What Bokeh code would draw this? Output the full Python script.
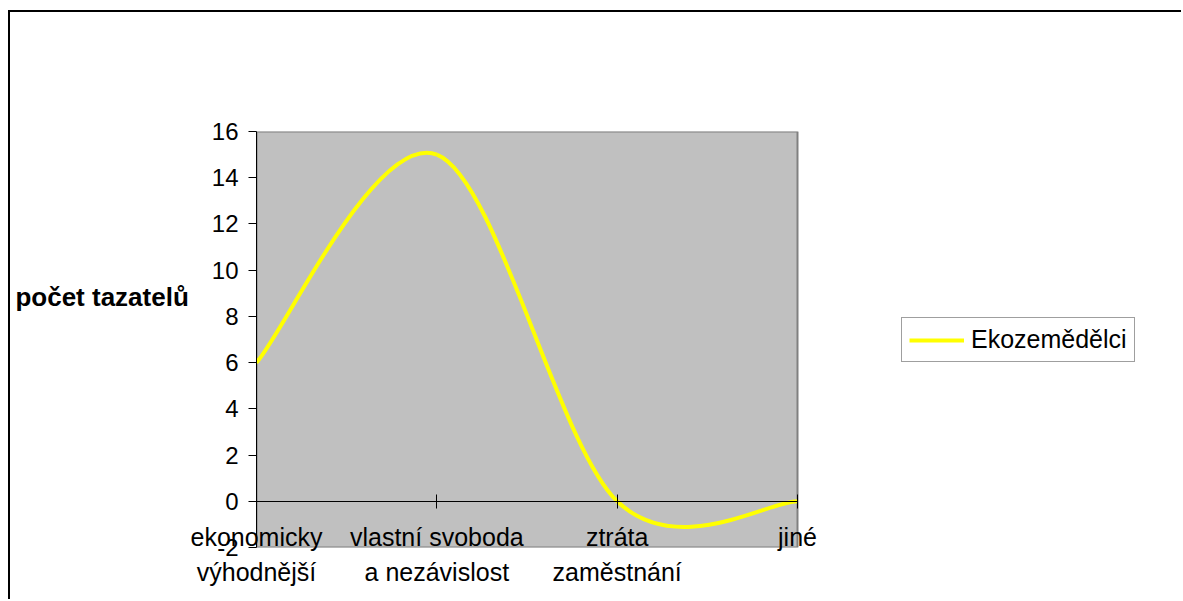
from bokeh.plotting import figure
from bokeh.models import (Legend, LegendItem, FixedTicker, LinearAxis, BoxAnnotation)
from bokeh.embed import file_html
from bokeh.resources import INLINE

# ---- data ----
categories = ["ekonomicky\nvýhodnější", "vlastní svoboda\na nezávislost",
              "ztráta\nzaměstnání", "jiné"]
values = [6, 15, 0, 0]
series_name = "Ekozemědělci"
y_label = "počet tazatelů"
y_ticks = [-2, 0, 2, 4, 6, 8, 10, 12, 14, 16]
y_min, y_max = -2, 16

FONT = "Liberation Sans"
FS = "24px"
FS2 = "25px"

xs = list(range(len(categories)))
x_max = len(categories) - 1

# smoothed line (Excel-like) as cubic bezier segments through the data points
n = len(values)
x0, y0, x1, y1, cx0, cy0, cx1, cy1 = [], [], [], [], [], [], [], []
for i in range(n - 1):
    pi = (xs[i], values[i])
    pn = (xs[i + 1], values[i + 1])
    pp = (xs[i - 1], values[i - 1]) if i > 0 else pi
    pnn = (xs[i + 2], values[i + 2]) if i + 2 < n else pn
    x0.append(pi[0]); y0.append(pi[1])
    x1.append(pn[0]); y1.append(pn[1])
    cx0.append(pi[0] + (pn[0] - pp[0]) / 6.0)
    cy0.append(pi[1] + (pn[1] - pp[1]) / 6.0)
    cx1.append(pn[0] - (pnn[0] - pi[0]) / 6.0)
    cy1.append(pn[1] - (pnn[1] - pi[1]) / 6.0)

OX, OY = 10, 12            # canvas origin on the page (margin + border)
W, H = 1183 - OX, 601 - OY
FL, FR, FT, FB = 256 - OX, 797 - OX, 131 - OY, 547 - OY
# frame spans to the right edge; plot area (gray) covers data x 0..x_max
x_end = x_max * (W - FL) / (FR - FL)

p = figure(width=W, height=H, output_backend="svg", toolbar_location=None,
           x_range=(0, x_end), y_range=(y_min, y_max),
           min_border_left=FL, min_border_right=0,
           min_border_top=FT, min_border_bottom=H - FB,
           background_fill_color="white", border_fill_color="white",
           margin=(10, 0, 0, 8),
           styles={"border-left": "2px solid black",
                   "border-top": "2px solid black"})
p.grid.visible = False
p.outline_line_color = None

# gray plot area
p.add_layout(BoxAnnotation(left=0, right=x_max, bottom=y_min, top=y_max,
                           fill_color="#C0C0C0", fill_alpha=1,
                           line_color="#808080", line_width=2, line_alpha=1,
                           level="underlay"))

# y axis
ya = p.yaxis[0]
ya.ticker = FixedTicker(ticks=y_ticks)
ya.major_label_overrides = {t: str(t) for t in y_ticks}
ya.axis_line_color = "black"
ya.major_tick_line_color = "black"
ya.major_tick_in = 0
ya.major_tick_out = 8
ya.minor_tick_line_color = None
ya.major_label_text_font = FONT
ya.major_label_text_font_size = FS
ya.major_label_text_color = "black"
ya.major_label_standoff = 10
ya.axis_label = y_label + "\n \n \n "
ya.axis_label_orientation = "horizontal"
ya.axis_label_text_font = FONT
ya.axis_label_text_font_size = "26px"
ya.axis_label_text_font_style = "bold"
ya.axis_label_text_color = "black"
ya.axis_label_text_line_height = 0.95
ya.axis_label_standoff = 20

# category labels on the bottom axis
xa = p.xaxis[0]
xa.ticker = FixedTicker(ticks=xs)
xa.major_label_overrides = {i: c for i, c in zip(xs, categories)}
xa.axis_line_color = None
xa.major_tick_line_color = None
xa.minor_tick_line_color = None
xa.major_tick_in = 0
xa.major_tick_out = 0
xa.major_label_standoff = -25
xa.major_label_text_font = FONT
xa.major_label_text_font_size = FS2
xa.major_label_text_color = "black"
xa.major_label_text_line_height = 1.25

# category axis line crossing at y = 0
za = LinearAxis(fixed_location=0, ticker=FixedTicker(ticks=xs), bounds=(0, x_max),
                major_label_overrides={i: "" for i in xs},
                axis_line_color="black", major_tick_line_color="black",
                major_tick_in=7, major_tick_out=7, minor_tick_line_color=None)
p.add_layout(za, "above")

# curve
p.bezier(x0=x0, y0=y0, x1=x1, y1=y1, cx0=cx0, cy0=cy0, cx1=cx1, cy1=cy1,
         line_color="#FFFF00", line_width=4)
# legend proxy (zero-length, so invisible in the plot)
leg_r = p.line(x=[xs[0], xs[0]], y=[values[0], values[0]],
               line_color="#FFFF00", line_width=4)

legend = Legend(items=[LegendItem(label=series_name, renderers=[leg_r])],
                location=(901 - 256, 547 - 362), orientation="vertical",
                border_line_color="#404040", border_line_width=1,
                background_fill_color="white", padding=7, margin=0,
                glyph_width=55, glyph_height=24, label_height=24,
                label_standoff=7, label_text_font=FONT,
                label_text_font_size=FS2, label_text_color="black")
p.add_layout(legend, "center")

open("out.html", "w").write(file_html(p, INLINE))
